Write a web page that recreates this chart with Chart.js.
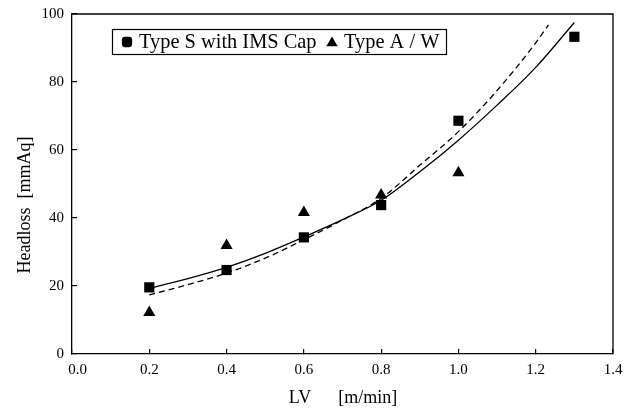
<!DOCTYPE html>
<html>
<head>
<meta charset="utf-8">
<script src="https://cdn.jsdelivr.net/npm/chart.js@4.4.1/dist/chart.umd.min.js"></script>
<style>
  html, body { margin: 0; padding: 0; background: #fff; }
</style>
</head>
<body>
<canvas id="chart" width="636" height="416"></canvas>
<script>
// measured points
const lvS = [0.2, 0.4, 0.6, 0.8, 1.0, 1.3];
const headS = [19.6, 24.7, 34.3, 43.8, 68.6, 93.3];
const lvAW = [0.2, 0.4, 0.6, 0.8, 1.0];
const headAW = [12.2, 31.9, 41.6, 46.8, 53.3];

// fitted curves
const fitSolidX = [0.2, 0.3, 0.4, 0.5, 0.6, 0.7, 0.8, 0.9, 1.0, 1.1, 1.2, 1.3];
const fitSolidY = [19.3, 22.2, 25.5, 29.6, 34.4, 39.5, 45.2, 53.6, 62.9, 73.2, 84.3, 97.5];
const fitDashX = [0.2, 0.3, 0.4, 0.5, 0.6, 0.7, 0.8, 0.9, 1.0, 1.1, 1.2, 1.233];
const fitDashY = [17.4, 20.4, 23.8, 28.2, 33.6, 39.4, 45.8, 55.5, 65.4, 77.5, 91.5, 96.8];

const xTicks = [0.0, 0.2, 0.4, 0.6, 0.8, 1.0, 1.2, 1.4];
const yTicks = [0, 20, 40, 60, 80, 100];

const serif = '"Liberation Serif", "DejaVu Serif", serif';

function pairs(xs, ys) {
    return xs.map((x, i) => ({ x: x, y: ys[i] }));
}

// top/right frame, legend box and axis titles
const decor = {
    id: 'decor',
    afterDraw(chart) {
        const ctx = chart.ctx;
        const a = chart.chartArea;
        ctx.save();
        ctx.strokeStyle = '#000';
        ctx.lineWidth = 1.3;
        ctx.beginPath();
        ctx.moveTo(a.left, a.top);
        ctx.lineTo(a.right, a.top);
        ctx.lineTo(a.right, a.bottom);
        ctx.stroke();

        // legend
        ctx.lineWidth = 1.2;
        ctx.strokeRect(112.5, 29.5, 334, 25);
        ctx.fillStyle = '#000';
        const ds = chart.data.datasets;
        Chart.helpers.drawPoint(ctx, { pointStyle: 'rectRounded', radius: 6, borderWidth: 0 }, 127, 42);
        Chart.helpers.drawPoint(ctx, { pointStyle: 'triangle', radius: 6.5, borderWidth: 0 }, 332, 43);
        ctx.font = '20.4px ' + serif;
        ctx.textBaseline = 'middle';
        ctx.textAlign = 'left';
        ctx.fillText(ds[0].label, 139, 43);
        ctx.fillText(ds[1].label, 344, 43);

        // axis titles
        ctx.font = '18px ' + serif;
        ctx.textAlign = 'center';
        ctx.fillText('LV      [m/min]', 343, 398);
        ctx.translate(25, 205);
        ctx.rotate(-Math.PI / 2);
        ctx.fillText('Headloss  [mmAq]', 0, 0);
        ctx.restore();
    }
};

new Chart(document.getElementById('chart'), {
    type: 'scatter',
    data: {
        datasets: [
            {
                label: 'Type S with IMS Cap',
                data: pairs(lvS, headS),
                pointStyle: 'rect',
                pointRadius: 7.2,
                backgroundColor: '#000',
                borderWidth: 0,
                order: 0
            },
            {
                label: 'Type A / W',
                data: pairs(lvAW, headAW),
                pointStyle: 'triangle',
                pointRadius: 7,
                backgroundColor: '#000',
                borderWidth: 0,
                order: 0
            },
            {
                label: 'fit S',
                data: pairs(fitSolidX, fitSolidY),
                showLine: true,
                pointRadius: 0,
                borderColor: '#000',
                borderWidth: 1.3,
                tension: 0.4,
                cubicInterpolationMode: 'monotone',
                order: 1
            },
            {
                label: 'fit A/W',
                data: pairs(fitDashX, fitDashY),
                showLine: true,
                pointRadius: 0,
                borderColor: '#000',
                borderWidth: 1.3,
                borderDash: [6, 4],
                tension: 0.4,
                cubicInterpolationMode: 'monotone',
                order: 1
            }
        ]
    },
    options: {
        responsive: false,
        animation: false,
        layout: { padding: { top: 14, right: 23, left: 0, bottom: 0 } },
        plugins: {
            legend: { display: false },
            tooltip: { enabled: false }
        },
        scales: {
            x: {
                type: 'linear',
                min: 0,
                max: 1.4,
                afterBuildTicks: s => { s.ticks = xTicks.map(v => ({ value: v })); },
                afterFit: s => { s.height = 62; s.paddingLeft = 0; s.paddingRight = 0; },
                grid: { display: true, drawOnChartArea: false, drawTicks: true, tickLength: -5, color: '#000', lineWidth: 1.2 },
                border: { display: true, color: '#000', width: 1.3 },
                ticks: {
                    padding: 12,
                    color: '#000',
                    font: { family: serif, size: 15 },
                    callback: v => (v === 0 ? '   0.0' : v.toFixed(1))
                }
            },
            y: {
                min: 0,
                max: 100,
                afterBuildTicks: s => { s.ticks = yTicks.map(v => ({ value: v })); },
                afterFit: s => { s.width = 72; s.paddingTop = 0; s.paddingBottom = 0; },
                grid: { display: true, drawOnChartArea: false, drawTicks: true, tickLength: -5, color: '#000', lineWidth: 1.2 },
                border: { display: true, color: '#000', width: 1.3 },
                ticks: {
                    padding: 13,
                    color: '#000',
                    font: { family: serif, size: 15 }
                }
            }
        }
    },
    plugins: [decor]
});
</script>
</body>
</html>
